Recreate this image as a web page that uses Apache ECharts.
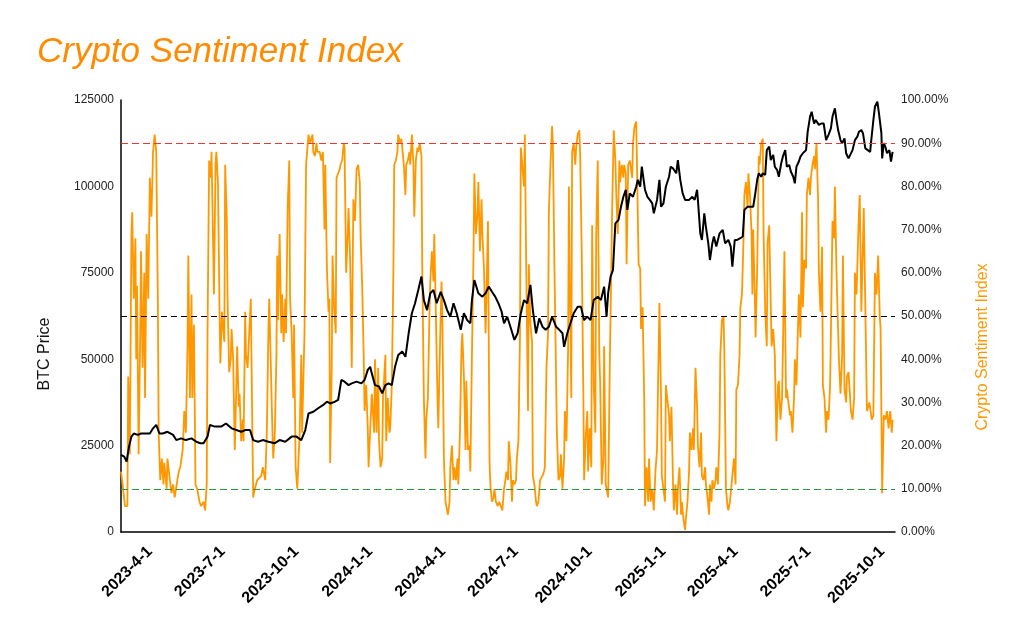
<!DOCTYPE html>
<html>
<head>
<meta charset="utf-8">
<title>Crypto Sentiment Index</title>
<script src="https://cdn.jsdelivr.net/npm/echarts@6/dist/echarts.min.js"></script>
<style>
    html, body { margin: 0; padding: 0; background: #fff; }
    #container-chart-line { width: 1024px; height: 635px; }
</style>
</head>
<body>
<div id="container-chart-line"></div>
<script>
// 情绪指数 (%)
var sentDates = [
    '2023-02-24','2023-02-26','2023-03-01','2023-03-04','2023-03-05','2023-03-07','2023-03-09','2023-03-10','2023-03-12','2023-03-14',
    '2023-03-15','2023-03-16','2023-03-18','2023-03-20','2023-03-21','2023-03-23','2023-03-25','2023-03-26','2023-03-28','2023-03-30',
    '2023-04-01','2023-04-03','2023-04-05','2023-04-07','2023-04-09','2023-04-11','2023-04-12','2023-04-14','2023-04-16','2023-04-18',
    '2023-04-19','2023-04-22','2023-04-23','2023-04-26','2023-04-28','2023-04-30','2023-05-02','2023-05-04','2023-05-07','2023-05-09',
    '2023-05-12','2023-05-14','2023-05-16','2023-05-18','2023-05-19','2023-05-21','2023-05-23','2023-05-24','2023-05-26','2023-05-28',
    '2023-05-30','2023-06-02','2023-06-04','2023-06-07','2023-06-09','2023-06-11','2023-06-12','2023-06-14','2023-06-16','2023-06-17',
    '2023-06-19','2023-06-20','2023-06-22','2023-06-23','2023-06-25','2023-06-27','2023-06-28','2023-06-30','2023-07-02','2023-07-03',
    '2023-07-04','2023-07-06','2023-07-07','2023-07-09','2023-07-11','2023-07-12','2023-07-14','2023-07-16','2023-07-17','2023-07-19',
    '2023-07-21','2023-07-22','2023-07-24','2023-07-26','2023-07-27','2023-07-29','2023-07-30','2023-08-01','2023-08-03','2023-08-05',
    '2023-08-07','2023-08-08','2023-08-10','2023-08-13','2023-08-15','2023-08-18','2023-08-20','2023-08-23','2023-08-25','2023-08-27',
    '2023-08-28','2023-08-30','2023-09-01','2023-09-02','2023-09-04','2023-09-06','2023-09-07','2023-09-08','2023-09-10','2023-09-12',
    '2023-09-13','2023-09-15','2023-09-17','2023-09-18','2023-09-20','2023-09-22','2023-09-23','2023-09-25','2023-09-27','2023-09-28',
    '2023-09-30','2023-10-02','2023-10-05','2023-10-07','2023-10-08','2023-10-11','2023-10-13','2023-10-16','2023-10-18','2023-10-21',
    '2023-10-22','2023-10-24','2023-10-26','2023-10-27','2023-10-30','2023-11-01','2023-11-03','2023-11-05','2023-11-06','2023-11-08',
    '2023-11-10','2023-11-11','2023-11-12','2023-11-14','2023-11-15','2023-11-17','2023-11-19','2023-11-20','2023-11-22','2023-11-24',
    '2023-11-25','2023-11-27','2023-11-29','2023-11-30','2023-12-02','2023-12-04','2023-12-05','2023-12-07','2023-12-09','2023-12-11',
    '2023-12-13','2023-12-15','2023-12-17','2023-12-19','2023-12-20','2023-12-22','2023-12-24','2023-12-25','2023-12-27','2023-12-29',
    '2023-12-30','2024-01-01','2024-01-03','2024-01-06','2024-01-07','2024-01-09','2024-01-11','2024-01-12','2024-01-14','2024-01-16',
    '2024-01-17','2024-01-20','2024-01-21','2024-01-23','2024-01-25','2024-01-26','2024-01-28','2024-01-30','2024-01-31','2024-02-02',
    '2024-02-04','2024-02-05','2024-02-07','2024-02-09','2024-02-10','2024-02-12','2024-02-14','2024-02-15','2024-02-17','2024-02-19',
    '2024-02-20','2024-02-22','2024-02-24','2024-02-25','2024-02-27','2024-02-29','2024-03-01','2024-03-03','2024-03-05','2024-03-06',
    '2024-03-08','2024-03-10','2024-03-11','2024-03-13','2024-03-15','2024-03-16','2024-03-18','2024-03-20','2024-03-21','2024-03-23',
    '2024-03-25','2024-03-26','2024-03-28','2024-03-30','2024-03-31','2024-04-02','2024-04-04','2024-04-05','2024-04-07','2024-04-09',
    '2024-04-10','2024-04-12','2024-04-14','2024-04-15','2024-04-17','2024-04-19','2024-04-20','2024-04-22','2024-04-24','2024-04-25',
    '2024-04-27','2024-04-29','2024-04-30','2024-05-02','2024-05-04','2024-05-05','2024-05-07','2024-05-09','2024-05-10','2024-05-12',
    '2024-05-14','2024-05-15','2024-05-17','2024-05-19','2024-05-20','2024-05-22','2024-05-24','2024-05-25','2024-05-27','2024-05-29',
    '2024-05-30','2024-06-01','2024-06-03','2024-06-04','2024-06-06','2024-06-08','2024-06-09','2024-06-10','2024-06-12','2024-06-14',
    '2024-06-16','2024-06-17','2024-06-19','2024-06-21','2024-06-22','2024-06-24','2024-06-26','2024-06-27','2024-06-29','2024-07-01',
    '2024-07-02','2024-07-04','2024-07-06','2024-07-07','2024-07-09','2024-07-11','2024-07-12','2024-07-14','2024-07-16','2024-07-17',
    '2024-07-19','2024-07-21','2024-07-22','2024-07-24','2024-07-26','2024-07-27','2024-07-29','2024-07-31','2024-08-01','2024-08-03',
    '2024-08-05','2024-08-06','2024-08-08','2024-08-10','2024-08-11','2024-08-13','2024-08-15','2024-08-16','2024-08-18','2024-08-20',
    '2024-08-21','2024-08-23','2024-08-25','2024-08-26','2024-08-28','2024-08-30','2024-08-31','2024-09-02','2024-09-04','2024-09-05',
    '2024-09-06','2024-09-08','2024-09-09','2024-09-11','2024-09-13','2024-09-14','2024-09-16','2024-09-18','2024-09-19','2024-09-21',
    '2024-09-23','2024-09-24','2024-09-26','2024-09-28','2024-09-29','2024-10-01','2024-10-03','2024-10-04','2024-10-06','2024-10-08',
    '2024-10-09','2024-10-11','2024-10-13','2024-10-14','2024-10-16','2024-10-18','2024-10-19','2024-10-21','2024-10-23','2024-10-24',
    '2024-10-26','2024-10-28','2024-10-29','2024-10-31','2024-11-02','2024-11-03','2024-11-05','2024-11-07','2024-11-08','2024-11-10',
    '2024-11-12','2024-11-13','2024-11-15','2024-11-16','2024-11-18','2024-11-20','2024-11-23','2024-11-24','2024-11-26','2024-11-28',
    '2024-11-29','2024-12-01','2024-12-03','2024-12-04','2024-12-06','2024-12-08','2024-12-09','2024-12-11','2024-12-13','2024-12-14',
    '2024-12-16','2024-12-18','2024-12-20','2024-12-22','2024-12-24','2024-12-25','2024-12-27','2024-12-29','2024-12-30','2025-01-01',
    '2025-01-03','2025-01-04','2025-01-06','2025-01-08','2025-01-09','2025-01-11','2025-01-13','2025-01-14','2025-01-16','2025-01-18',
    '2025-01-19','2025-01-21','2025-01-23','2025-01-24','2025-01-26','2025-01-28','2025-01-29','2025-01-31','2025-02-02','2025-02-03',
    '2025-02-05','2025-02-07','2025-02-08','2025-02-10','2025-02-12','2025-02-13','2025-02-15','2025-02-17','2025-02-18','2025-02-20',
    '2025-02-22','2025-02-23','2025-02-25','2025-02-27','2025-02-28','2025-03-02','2025-03-03','2025-03-05','2025-03-07','2025-03-08',
    '2025-03-10','2025-03-12','2025-03-13','2025-03-15','2025-03-17','2025-03-18','2025-03-20','2025-03-22','2025-03-23','2025-03-25',
    '2025-03-27','2025-03-28','2025-03-30','2025-04-01','2025-04-02','2025-04-04','2025-04-06','2025-04-07','2025-04-09','2025-04-11',
    '2025-04-12','2025-04-14','2025-04-16','2025-04-17','2025-04-19','2025-04-21','2025-04-22','2025-04-23','2025-04-25','2025-04-26',
    '2025-04-28','2025-04-30','2025-05-01','2025-05-03','2025-05-05','2025-05-06','2025-05-08','2025-05-10','2025-05-11','2025-05-13',
    '2025-05-15','2025-05-16','2025-05-18','2025-05-20','2025-05-21','2025-05-22','2025-05-24','2025-05-25','2025-05-27','2025-05-29',
    '2025-05-30','2025-06-01','2025-06-03','2025-06-04','2025-06-06','2025-06-08','2025-06-09','2025-06-11','2025-06-13','2025-06-14',
    '2025-06-16','2025-06-18','2025-06-19','2025-06-21','2025-06-23','2025-06-24','2025-06-26','2025-06-28','2025-06-29','2025-07-01',
    '2025-07-03','2025-07-04','2025-07-06','2025-07-08','2025-07-09','2025-07-11','2025-07-13','2025-07-14','2025-07-16','2025-07-18',
    '2025-07-19','2025-07-21','2025-07-23','2025-07-24','2025-07-26','2025-07-28','2025-07-29','2025-07-31','2025-08-02','2025-08-03',
    '2025-08-05','2025-08-07','2025-08-08','2025-08-10','2025-08-12','2025-08-13','2025-08-15','2025-08-17','2025-08-18','2025-08-20',
    '2025-08-22','2025-08-23','2025-08-25','2025-08-27','2025-08-28','2025-08-30','2025-09-01','2025-09-02','2025-09-03','2025-09-05',
    '2025-09-08','2025-09-12','2025-09-15','2025-09-18','2025-09-20','2025-09-22','2025-09-24','2025-09-26','2025-09-28','2025-09-29',
    '2025-10-01','2025-10-03','2025-10-05','2025-10-07','2025-10-09','2025-10-11','2025-10-13','2025-10-14'
];
var sentValues = [
    14,11,6,6,36,18,69,74,54,68,
    40,57,18,46,65,38,60,31,69,54,
    82,73,88,92,88,54,23,12,17,11,
    16,10,17,12,9,11,8,8,14,15,
    19,28,23,43,64,31,55,31,48,11,
    10,7,6,7,5,11,46,86,82,88,
    88,55,85,88,81,51,39,51,46,44,
    85,73,54,37,40,47,40,19,26,43,
    29,32,21,26,21,51,41,38,46,54,
    23,8,10,12,12,13,15,12,23,47,
    54,54,23,17,23,41,64,49,69,46,
    55,44,54,46,75,86,54,46,31,48,
    15,10,23,41,23,46,85,92,90,92,
    88,87,90,88,88,86,88,70,85,61,
    51,54,16,38,64,52,46,82,83,84,
    85,86,90,89,60,69,75,63,38,77,
    72,84,85,81,69,57,40,28,34,24,
    15,15,32,23,40,23,38,21,15,17,
    31,41,21,31,23,24,34,61,85,86,
    88,92,90,91,89,85,78,85,86,88,
    85,92,85,73,86,89,88,90,87,61,
    31,17,26,31,51,58,65,58,69,50,
    31,24,42,58,51,17,7,6,4,7,
    15,20,12,15,12,17,11,23,43,46,
    36,19,35,19,20,14,41,65,83,69,
    74,81,65,77,69,61,46,54,72,16,
    11,7,8,10,7,6,6,7,7,5,
    10,11,14,12,21,16,7,12,11,12,
    17,21,46,89,89,80,92,57,28,62,
    48,44,13,11,7,6,7,12,12,13,
    14,15,38,46,74,85,94,90,61,36,
    23,12,13,18,10,17,28,21,42,80,
    60,31,88,90,85,89,92,93,88,65,
    33,12,22,28,14,24,15,71,34,23,
    68,86,41,35,11,17,43,11,11,8,
    38,62,75,93,86,79,69,86,81,85,
    82,85,83,62,85,86,82,90,94,95,
    85,62,61,47,52,31,6,15,7,17,
    7,10,5,14,19,31,53,31,13,10,
    7,34,34,27,21,29,11,5,11,4,
    10,15,4,7,3,0.5,3,7,14,23,
    19,24,19,38,29,20,15,23,13,12,
    15,11,8,4,11,7,12,10,12,15,
    11,23,41,49,50,42,10,6,5,7,
    11,11,17,11,33,34,41,52,55,68,
    78,81,75,83,78,69,55,70,55,45,
    61,87,85,90,91,69,51,43,67,71,
    52,43,47,41,31,21,34,35,26,31,
    41,65,31,33,30,27,28,23,31,40,
    34,34,55,45,74,52,63,61,78,82,
    78,82,85,87,84,90,77,60,51,66,
    34,31,23,28,26,34,46,72,68,80,
    60,60,40,32,41,64,33,30,36,37,
    31,28,26,31,60,55,68,74,78,51,
    75,28,30,26,27,60,55,64,50,47,
    9,27,26,28,24,28,23,26
];

// BTC 价格
var btcDates = [
    '2023-02-24','2023-02-28','2023-03-03','2023-03-06','2023-03-09','2023-03-12','2023-03-17','2023-03-21','2023-03-25','2023-04-01',
    '2023-04-05','2023-04-09','2023-04-13','2023-04-17','2023-04-23','2023-04-30','2023-05-04','2023-05-10','2023-05-16','2023-05-23',
    '2023-05-29','2023-06-03','2023-06-07','2023-06-12','2023-06-15','2023-06-21','2023-06-29','2023-07-05','2023-07-12','2023-07-18',
    '2023-07-24','2023-07-29','2023-08-04','2023-08-08','2023-08-14','2023-08-20','2023-08-27','2023-09-04','2023-09-10','2023-09-17',
    '2023-09-25','2023-10-01','2023-10-07','2023-10-12','2023-10-16','2023-10-22','2023-10-28','2023-11-03','2023-11-08','2023-11-12',
    '2023-11-18','2023-11-22','2023-11-26','2023-11-30','2023-12-05','2023-12-09','2023-12-15','2023-12-21','2023-12-25','2023-12-29',
    '2024-01-01','2024-01-03','2024-01-07','2024-01-12','2024-01-16','2024-01-20','2024-01-24','2024-01-28','2024-02-01','2024-02-05',
    '2024-02-10','2024-02-14','2024-02-18','2024-02-22','2024-02-26','2024-03-01','2024-03-05','2024-03-08','2024-03-12','2024-03-16',
    '2024-03-20','2024-03-24','2024-03-29','2024-04-02','2024-04-06','2024-04-10','2024-04-14','2024-04-18','2024-04-23','2024-04-27',
    '2024-05-01','2024-05-05','2024-05-07','2024-05-10','2024-05-15','2024-05-20','2024-05-24','2024-05-28','2024-06-01','2024-06-05',
    '2024-06-09','2024-06-13','2024-06-16','2024-06-20','2024-06-24','2024-06-29','2024-07-03','2024-07-07','2024-07-11','2024-07-15',
    '2024-07-19','2024-07-22','2024-07-26','2024-07-30','2024-08-03','2024-08-07','2024-08-11','2024-08-15','2024-08-20','2024-08-24',
    '2024-08-28','2024-08-30','2024-09-03','2024-09-07','2024-09-11','2024-09-16','2024-09-20','2024-09-24','2024-09-28','2024-10-02',
    '2024-10-06','2024-10-11','2024-10-15','2024-10-19','2024-10-22','2024-10-24','2024-10-27','2024-10-30','2024-11-02','2024-11-06',
    '2024-11-09','2024-11-12','2024-11-15','2024-11-17','2024-11-20','2024-11-24','2024-11-28','2024-11-30','2024-12-03','2024-12-05',
    '2024-12-07','2024-12-09','2024-12-12','2024-12-15','2024-12-18','2024-12-20','2024-12-24','2024-12-27','2024-12-29','2025-01-01',
    '2025-01-04','2025-01-08','2025-01-10','2025-01-13','2025-01-17','2025-01-19','2025-01-22','2025-01-25','2025-01-28','2025-02-02',
    '2025-02-06','2025-02-09','2025-02-12','2025-02-13','2025-02-16','2025-02-18','2025-02-21','2025-02-23','2025-02-26','2025-02-28',
    '2025-03-03','2025-03-05','2025-03-08','2025-03-12','2025-03-16','2025-03-19','2025-03-23','2025-03-26','2025-03-28','2025-03-31',
    '2025-04-03','2025-04-07','2025-04-10','2025-04-12','2025-04-16','2025-04-20','2025-04-23','2025-04-25','2025-04-28','2025-04-30',
    '2025-05-03','2025-05-05','2025-05-08','2025-05-10','2025-05-13','2025-05-15','2025-05-18','2025-05-20','2025-05-23','2025-05-25',
    '2025-05-28','2025-05-30','2025-06-02','2025-06-04','2025-06-07','2025-06-09','2025-06-12','2025-06-14','2025-06-16','2025-06-19',
    '2025-06-21','2025-06-24','2025-06-28','2025-06-30','2025-07-03','2025-07-05','2025-07-08','2025-07-10','2025-07-14','2025-07-17',
    '2025-07-20','2025-07-23','2025-07-26','2025-07-29','2025-07-31','2025-08-03','2025-08-05','2025-08-07','2025-08-10','2025-08-12',
    '2025-08-15','2025-08-17','2025-08-20','2025-08-22','2025-08-25','2025-08-28','2025-08-31','2025-09-02','2025-09-05','2025-09-07',
    '2025-09-10','2025-09-12','2025-09-16','2025-09-17','2025-09-20','2025-09-22','2025-09-25','2025-09-27','2025-09-30','2025-10-01',
    '2025-10-03','2025-10-05','2025-10-07','2025-10-10','2025-10-12','2025-10-14'
];
var btcValues = [
    22300,21800,20400,24700,27600,28500,28100,28500,28500,28500,
    30000,31000,28500,28500,29000,28100,26600,27100,26600,27100,
    26100,25700,25700,27600,31000,30500,30500,31400,30000,29500,
    29000,29500,29500,26600,26100,26600,26100,25700,26600,26100,
    27600,27600,26600,29500,34300,34800,35800,36700,37700,37200,
    37700,38200,44000,43500,42500,43000,43500,43000,44000,46900,
    47800,45900,42500,42100,40100,42500,43000,42500,47800,51200,
    52200,50700,57500,63300,66200,70000,73900,67100,64200,69100,
    70000,66200,69500,67100,64200,62300,66200,63300,58500,63300,
    61300,60400,67100,72900,69100,68100,69100,71000,69500,68100,
    66200,63800,60400,62300,59400,55600,57500,63300,67100,66200,
    71500,64200,57500,61800,59400,58500,59400,62300,59400,58500,
    57500,53600,57500,60400,63300,65200,65200,61300,62300,61300,
    67100,68100,67100,71000,62300,69100,73900,75800,89300,90300,
    94100,97000,99000,93200,98000,97000,99900,101900,99900,105700,
    106200,99000,97000,96100,95100,92200,96100,101900,94100,95100,
    99900,102800,105700,105200,103800,107600,101900,98000,96100,96100,
    97000,96100,99000,96100,86400,84500,92200,88300,83500,78700,
    83500,85500,82600,86400,87400,83500,84500,82600,76800,84500,
    84500,85000,85500,93200,94100,94100,94100,97000,101900,103800,
    102800,103800,103300,110500,111500,107600,109100,105700,104700,102800,
    106700,108600,110500,105700,106200,104300,102800,100900,105700,107200,
    108600,109600,110500,115800,120200,121600,118200,119200,117800,118200,
    118200,113400,114900,116800,120200,122600,119200,116300,113400,112500,
    113900,109600,108100,108600,110500,113400,114400,115800,116300,115400,
    111000,111500,110000,112500,119200,123100,124500,121100,115400,108100,
    112500,111500,109600,110500,107200,110000
];

// 坐标轴刻度
var tickLabels = ['2023-4-1','2023-7-1','2023-10-1','2024-1-1','2024-4-1','2024-7-1',
    '2024-10-1','2025-1-1','2025-4-1','2025-7-1','2025-10-1'];
var axisStart = '2023-02-24';
var axisEnd = '2025-10-17';

var myChart;

function toTime(s) {
    var p = s.split('-');
    return new Date(+p[0], +p[1] - 1, +p[2]).getTime();
}

function pairUp(dates, values) {
    var out = [];
    for (var i = 0; i < dates.length; i++) {
        out.push([toTime(dates[i]), values[i]]);
    }
    return out;
}

function myChartInit() {
    myChart = echarts.init(document.getElementById('container-chart-line'));

    var tickTimes = tickLabels.map(toTime);

    var option = {
        backgroundColor: '#fff',
        animation: false,
        title: {
            text: 'Crypto Sentiment Index',
            left: 32,
            top: 30,
            textStyle: {
                color: '#ff8c00',
                fontSize: 35,
                fontStyle: 'italic',
                fontWeight: 'normal',
                fontFamily: 'Liberation Sans, Arial, sans-serif'
            }
        },
        grid: {
            left: 121,
            right: 129,
            top: 100,
            bottom: 103,
            containLabel: false,
            outerBoundsMode: 'none'
        },
        xAxis: {
            // 时间戳当数值轴用, 刻度只放在季度初
            type: 'value',
            min: toTime(axisStart),
            max: toTime(axisEnd),
            splitLine: { show: false },
            axisTick: { show: false },
            axisLine: { show: true, lineStyle: { color: '#000', width: 1.5 } },
            axisLabel: {
                rotate: 45,
                margin: 17,
                color: '#000',
                fontSize: 16,
                fontWeight: 'bold',
                fontFamily: 'Liberation Sans, Arial, sans-serif',
                customValues: tickTimes,
                formatter: function (v) {
                    var i = tickTimes.indexOf(v);
                    return i >= 0 ? tickLabels[i] : '';
                }
            }
        },
        yAxis: [
            {
                type: 'value',
                name: 'BTC Price',
                nameLocation: 'middle',
                nameGap: 68,
                nameTextStyle: {
                    color: '#111',
                    fontSize: 16,
                    fontFamily: 'Liberation Sans, Arial, sans-serif',
                    padding: [0, 76, 0, 0]
                },
                min: 0,
                max: 125000,
                interval: 25000,
                splitLine: { show: false },
                axisTick: { show: false },
                axisLine: { show: true, lineStyle: { color: '#000', width: 1.5 } },
                axisLabel: {
                    color: '#222',
                    fontSize: 12,
                    margin: 7,
                    fontFamily: 'Liberation Sans, Arial, sans-serif',
                    formatter: function (v) { return String(v); }
                }
            },
            {
                type: 'value',
                name: 'Crypto Sentiment Index',
                nameLocation: 'middle',
                nameGap: 80,
                nameTextStyle: {
                    color: '#ff9800',
                    fontSize: 16,
                    fontFamily: 'Liberation Sans, Arial, sans-serif',
                    padding: [0, 62, 0, 0]
                },
                min: 0,
                max: 100,
                interval: 10,
                position: 'right',
                splitLine: { show: false },
                axisTick: { show: false },
                axisLine: { show: false },
                axisLabel: {
                    color: '#222',
                    fontSize: 12,
                    margin: 6,
                    fontFamily: 'Liberation Sans, Arial, sans-serif',
                    formatter: function (v) { return v.toFixed(2) + '%'; }
                }
            }
        ],
        series: [
            {
                name: 'Crypto Sentiment Index',
                type: 'line',
                yAxisIndex: 1,
                showSymbol: false,
                data: pairUp(sentDates, sentValues),
                lineStyle: { color: '#ff9800', width: 1.8 },
                itemStyle: { color: '#ff9800' },
                markLine: {
                    silent: true,
                    symbol: ['none', 'none'],
                    label: { show: false },
                    data: [
                        { yAxis: 90, lineStyle: { color: '#e03a32', type: [7, 4], width: 1.2 } },
                        { yAxis: 50, lineStyle: { color: '#000', type: [6, 4], width: 1.2 } },
                        { yAxis: 10, lineStyle: { color: '#2a9a40', type: [7, 4], width: 1.2 } }
                    ]
                }
            },
            {
                name: 'BTC Price',
                type: 'line',
                yAxisIndex: 0,
                showSymbol: false,
                data: pairUp(btcDates, btcValues),
                lineStyle: { color: '#000', width: 2 },
                itemStyle: { color: '#000' }
            }
        ]
    };

    myChart.setOption(option);
}

myChartInit();
</script>
</body>
</html>
